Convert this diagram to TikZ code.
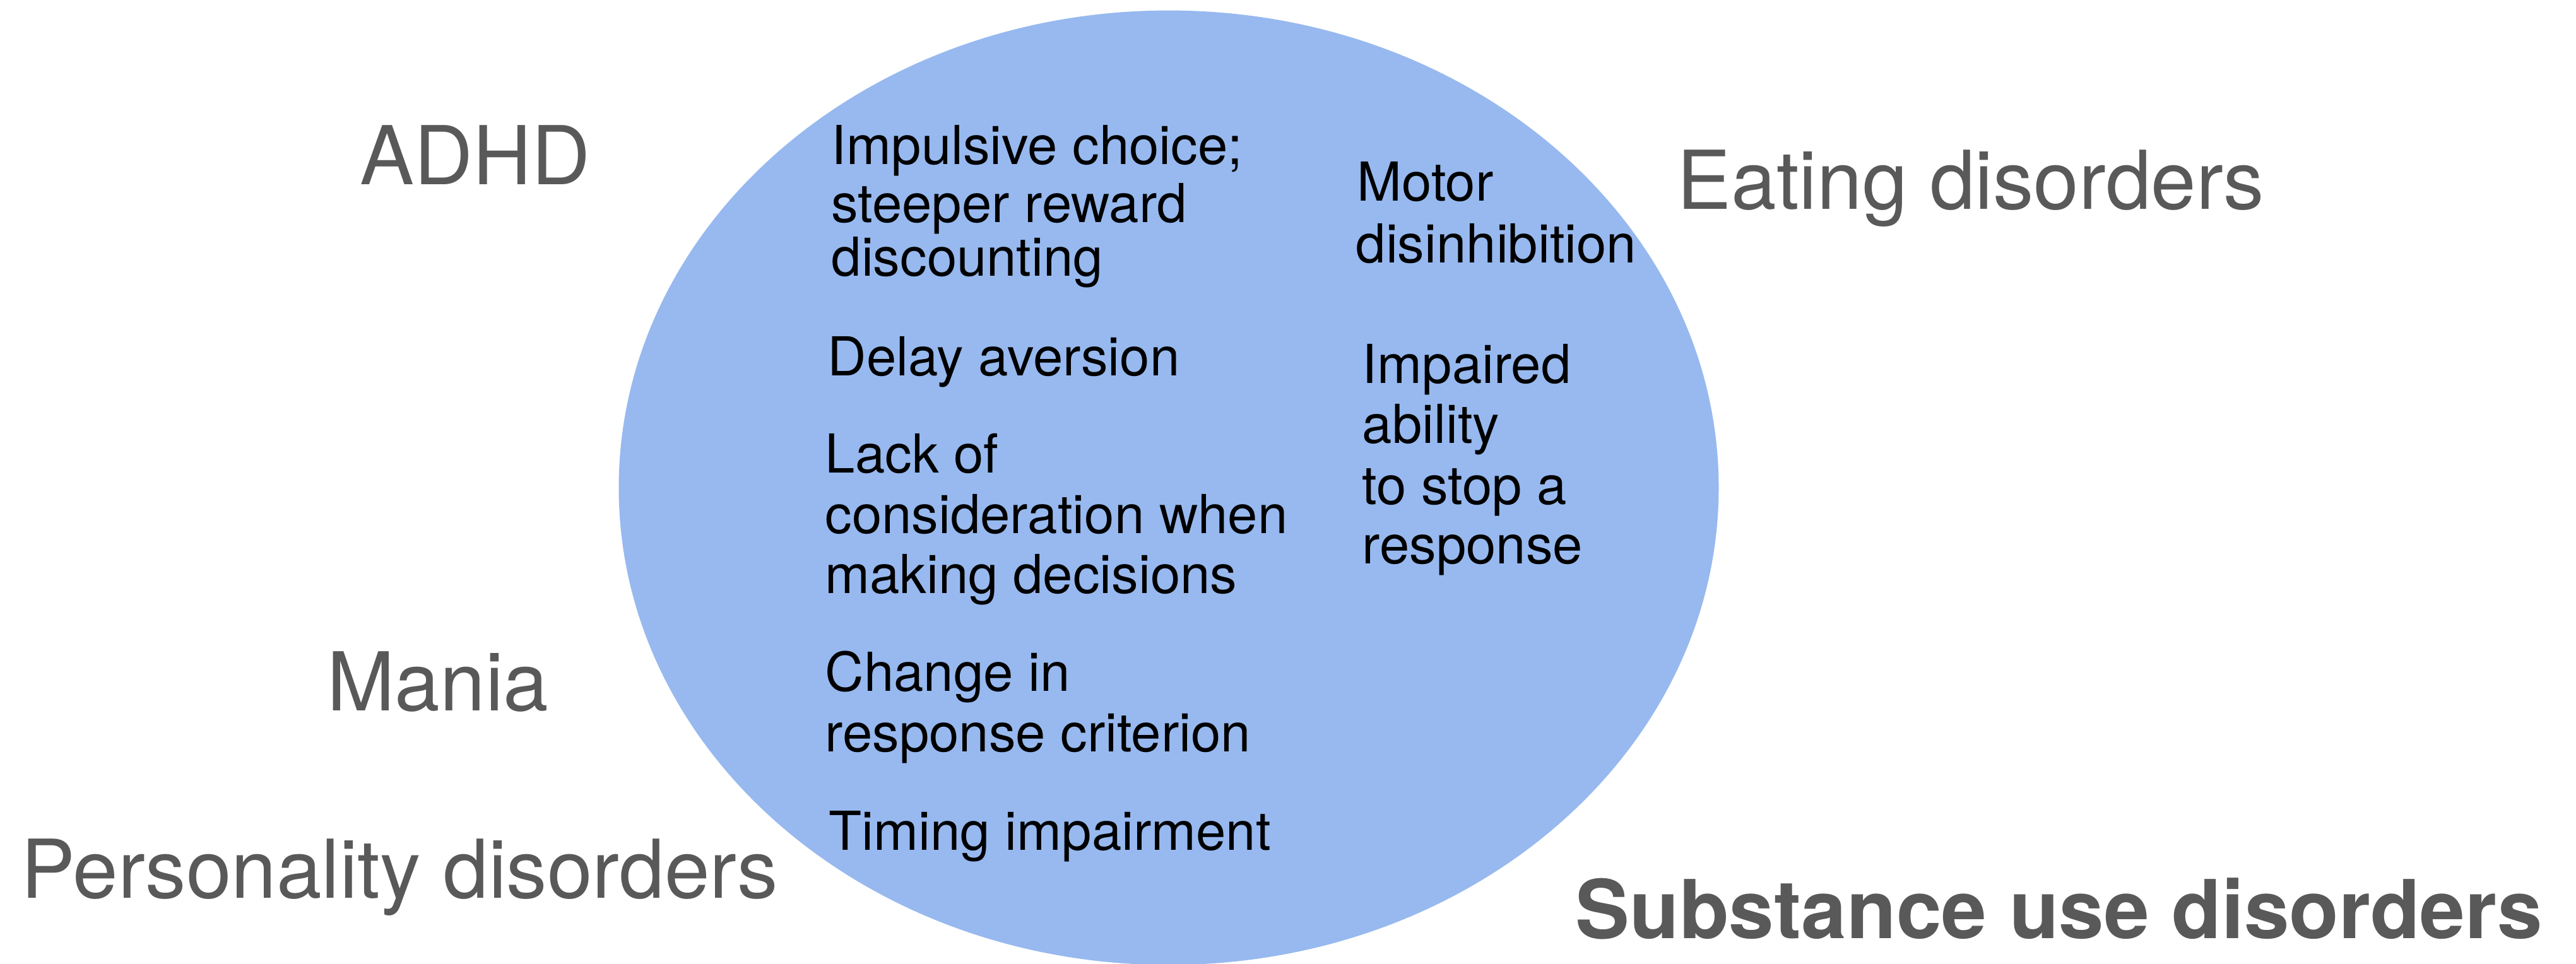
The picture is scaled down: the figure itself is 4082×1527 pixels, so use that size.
\documentclass[tikz,border=0pt]{standalone}
\usepackage{fontspec}
\setmainfont{TeX Gyre Heros}
\definecolor{blobblue}{RGB}{151,185,239}
\definecolor{lblgray}{RGB}{89,89,89}
\begin{document}
\begin{tikzpicture}[x=0.01cm,y=-0.01cm,
  lbl/.style={anchor=base west,inner sep=0pt,text=lblgray,font=\fontsize{36.6}{44}\selectfont},
  lblbold/.style={lbl,font=\fontsize{36.6}{44}\selectfont\bfseries},
  feat/.style={anchor=base west,inner sep=0pt,text=black,font=\fontsize{24.2}{29}\selectfont}]
\useasboundingbox (0,0) rectangle (4082,1527);
\fill[white] (0,0) rectangle (4082,1527);
\fill[blobblue] (1852,773) ellipse [x radius=8.71cm, y radius=7.56cm];
% outer labels
\node[lbl] (adhd) at (570,292) {ADHD};
\node[lbl] (eat) at (2657,331) {Eating disorders};
\node[lbl] (mania) at (518,1126) {Mania};
\node[lbl] (pers) at (33,1423) {Personality disorders};
\node[lblbold] (subst) at (2496,1487) {Substance use disorders};
% features, left column
\node[feat] (f1a) at (1317,260) {Impulsive choice;};
\node[feat] (f1b) at (1317,352) {steeper reward};
\node[feat] (f1c) at (1317,437) {discounting};
\node[feat] (f2) at (1311,595) {Delay aversion};
\node[feat] (f3a) at (1307,749) {Lack of};
\node[feat] (f3b) at (1307,845) {consideration when};
\node[feat] (f3c) at (1307,940) {making decisions};
\node[feat] (f4a) at (1307,1095) {Change in};
\node[feat] (f4b) at (1307,1191) {response criterion};
\node[feat] (f5) at (1313,1347) {Timing impairment};
% features, right column
\node[feat] (g1a) at (2150,318) {Motor};
\node[feat] (g1b) at (2148,416) {disinhibition};
\node[feat] (g2a) at (2158,607) {Impaired};
\node[feat] (g2b) at (2158,702) {ability};
\node[feat] (g2c) at (2158,799) {to stop a};
\node[feat] (g2d) at (2158,893) {response};
\end{tikzpicture}
\end{document}
